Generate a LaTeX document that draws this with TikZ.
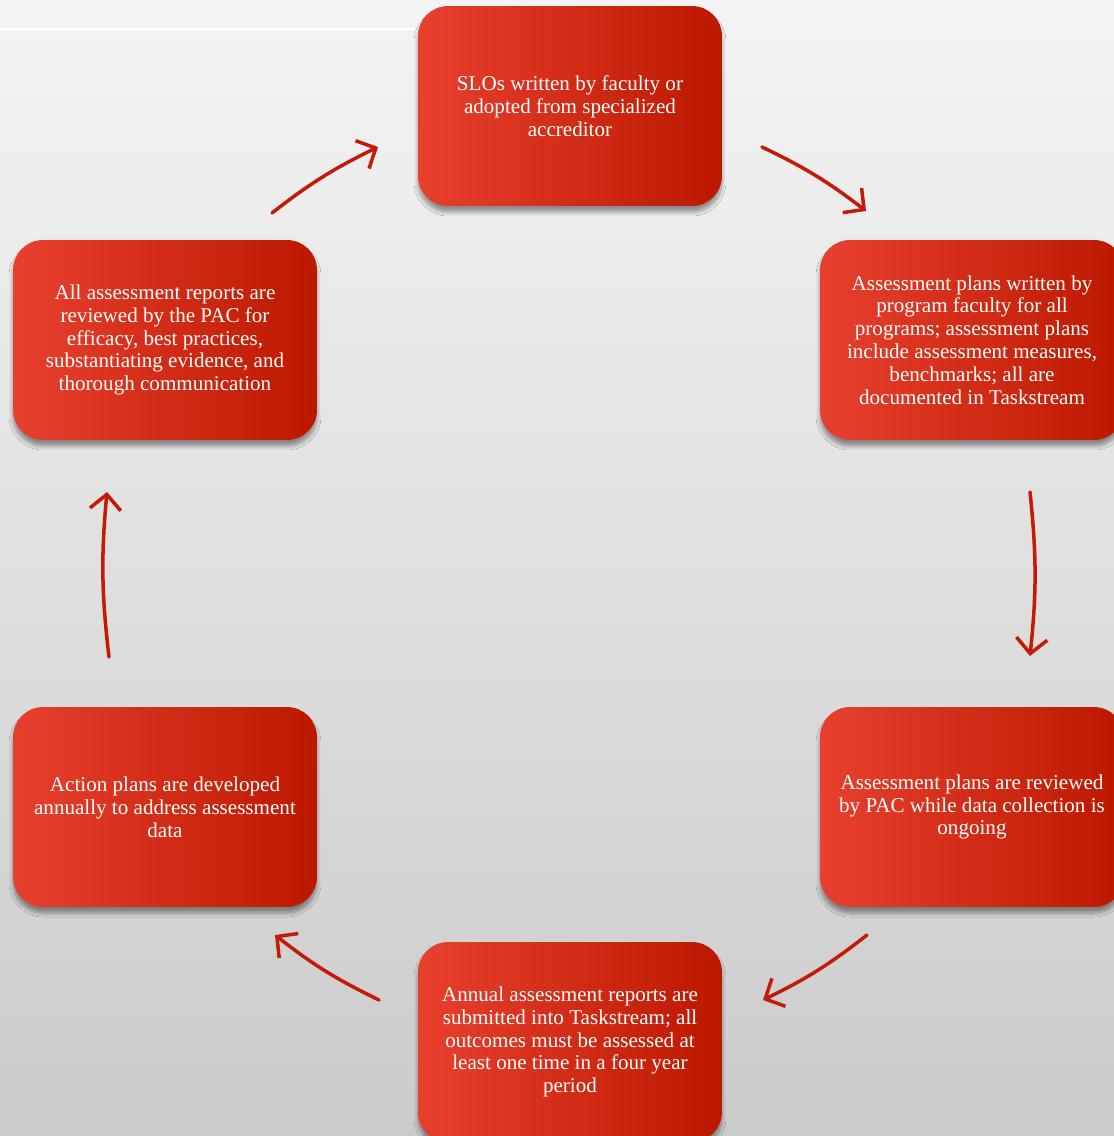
\documentclass[tikz,border=0pt]{standalone}
\usepackage{fontspec}
\setmainfont{Liberation Serif}
\usetikzlibrary{arrows.meta,shadows.blur}
\definecolor{boxlight}{HTML}{E8402F}
\definecolor{boxdark}{HTML}{BC1800}
\definecolor{arrowred}{HTML}{C41A08}
\definecolor{paperlight}{HTML}{F4F4F4}
\definecolor{paperdark}{HTML}{CBCBCB}
\tikzset{
	stagebox/.style={rounded corners=0.6cm, minimum width=6.08cm, minimum height=4cm,
		align=center, text=white, font=\fontsize{12}{13}\selectfont,
		left color=boxlight, right color=boxdark,
		blur shadow={shadow blur steps=6, shadow xshift=0cm, shadow yshift=-0.12cm, shadow blur radius=0.08cm, shadow opacity=40}},
	cyclearrow/.style={draw=arrowred, line width=2pt, line cap=round,
		-{Straight Barb[length=3mm, width=6.2mm]}}
}
\begin{document}
\begin{tikzpicture}[x=0.02cm, y=-0.02cm, line join=round]
	\useasboundingbox (0,0) rectangle (1114,1136);
	\clip (0,0) rectangle (1114,1136);
	% paper background
	\shade[top color=paperlight, bottom color=paperdark] (0,0) rectangle (1114,1136);
	\draw[white, line width=0.6pt] (0,29) -- (415,29);
	% the six stages
	\node[stagebox] (slo) at (570,106) {SLOs written by faculty or\\adopted from specialized\\accreditor};
	\node[stagebox] (plans) at (972,340) {Assessment plans written by\\program faculty for all\\programs; assessment plans\\include assessment measures,\\benchmarks; all are\\documented in Taskstream};
	\node[stagebox] (review) at (972,807) {Assessment plans are reviewed\\by PAC while data collection is\\ongoing};
	\node[stagebox] (annual) at (570,1042) {Annual assessment reports are\\submitted into Taskstream; all\\outcomes must be assessed at\\least one time in a four year\\period};
	\node[stagebox] (action) at (165,807) {Action plans are developed\\annually to address assessment\\data};
	\node[stagebox] (pac) at (165,340) {All assessment reports are\\reviewed by the PAC for\\efficacy, best practices,\\substantiating evidence, and\\thorough communication};
	% arrow ends
	\path
	(272,213) coordinate (pacout) (378,147) coordinate (sloin)
	(762,147) coordinate (sloout) (866,211) coordinate (plansin)
	(1030,492) coordinate (plansout) (1030,656) coordinate (reviewin)
	(867,935) coordinate (reviewout) (763,1000) coordinate (annualin)
	(379,1000) coordinate (annualout) (275,935) coordinate (actionin)
	(109,657) coordinate (actionout) (107,492) coordinate (pacin)
	;
	\foreach \a/\b in {pacout/sloin,sloout/plansin,plansout/reviewin,reviewout/annualin,annualout/actionin,actionout/pacin}
	\draw[cyclearrow] (\a) to[bend left=6] (\b);
\end{tikzpicture}
\end{document}
